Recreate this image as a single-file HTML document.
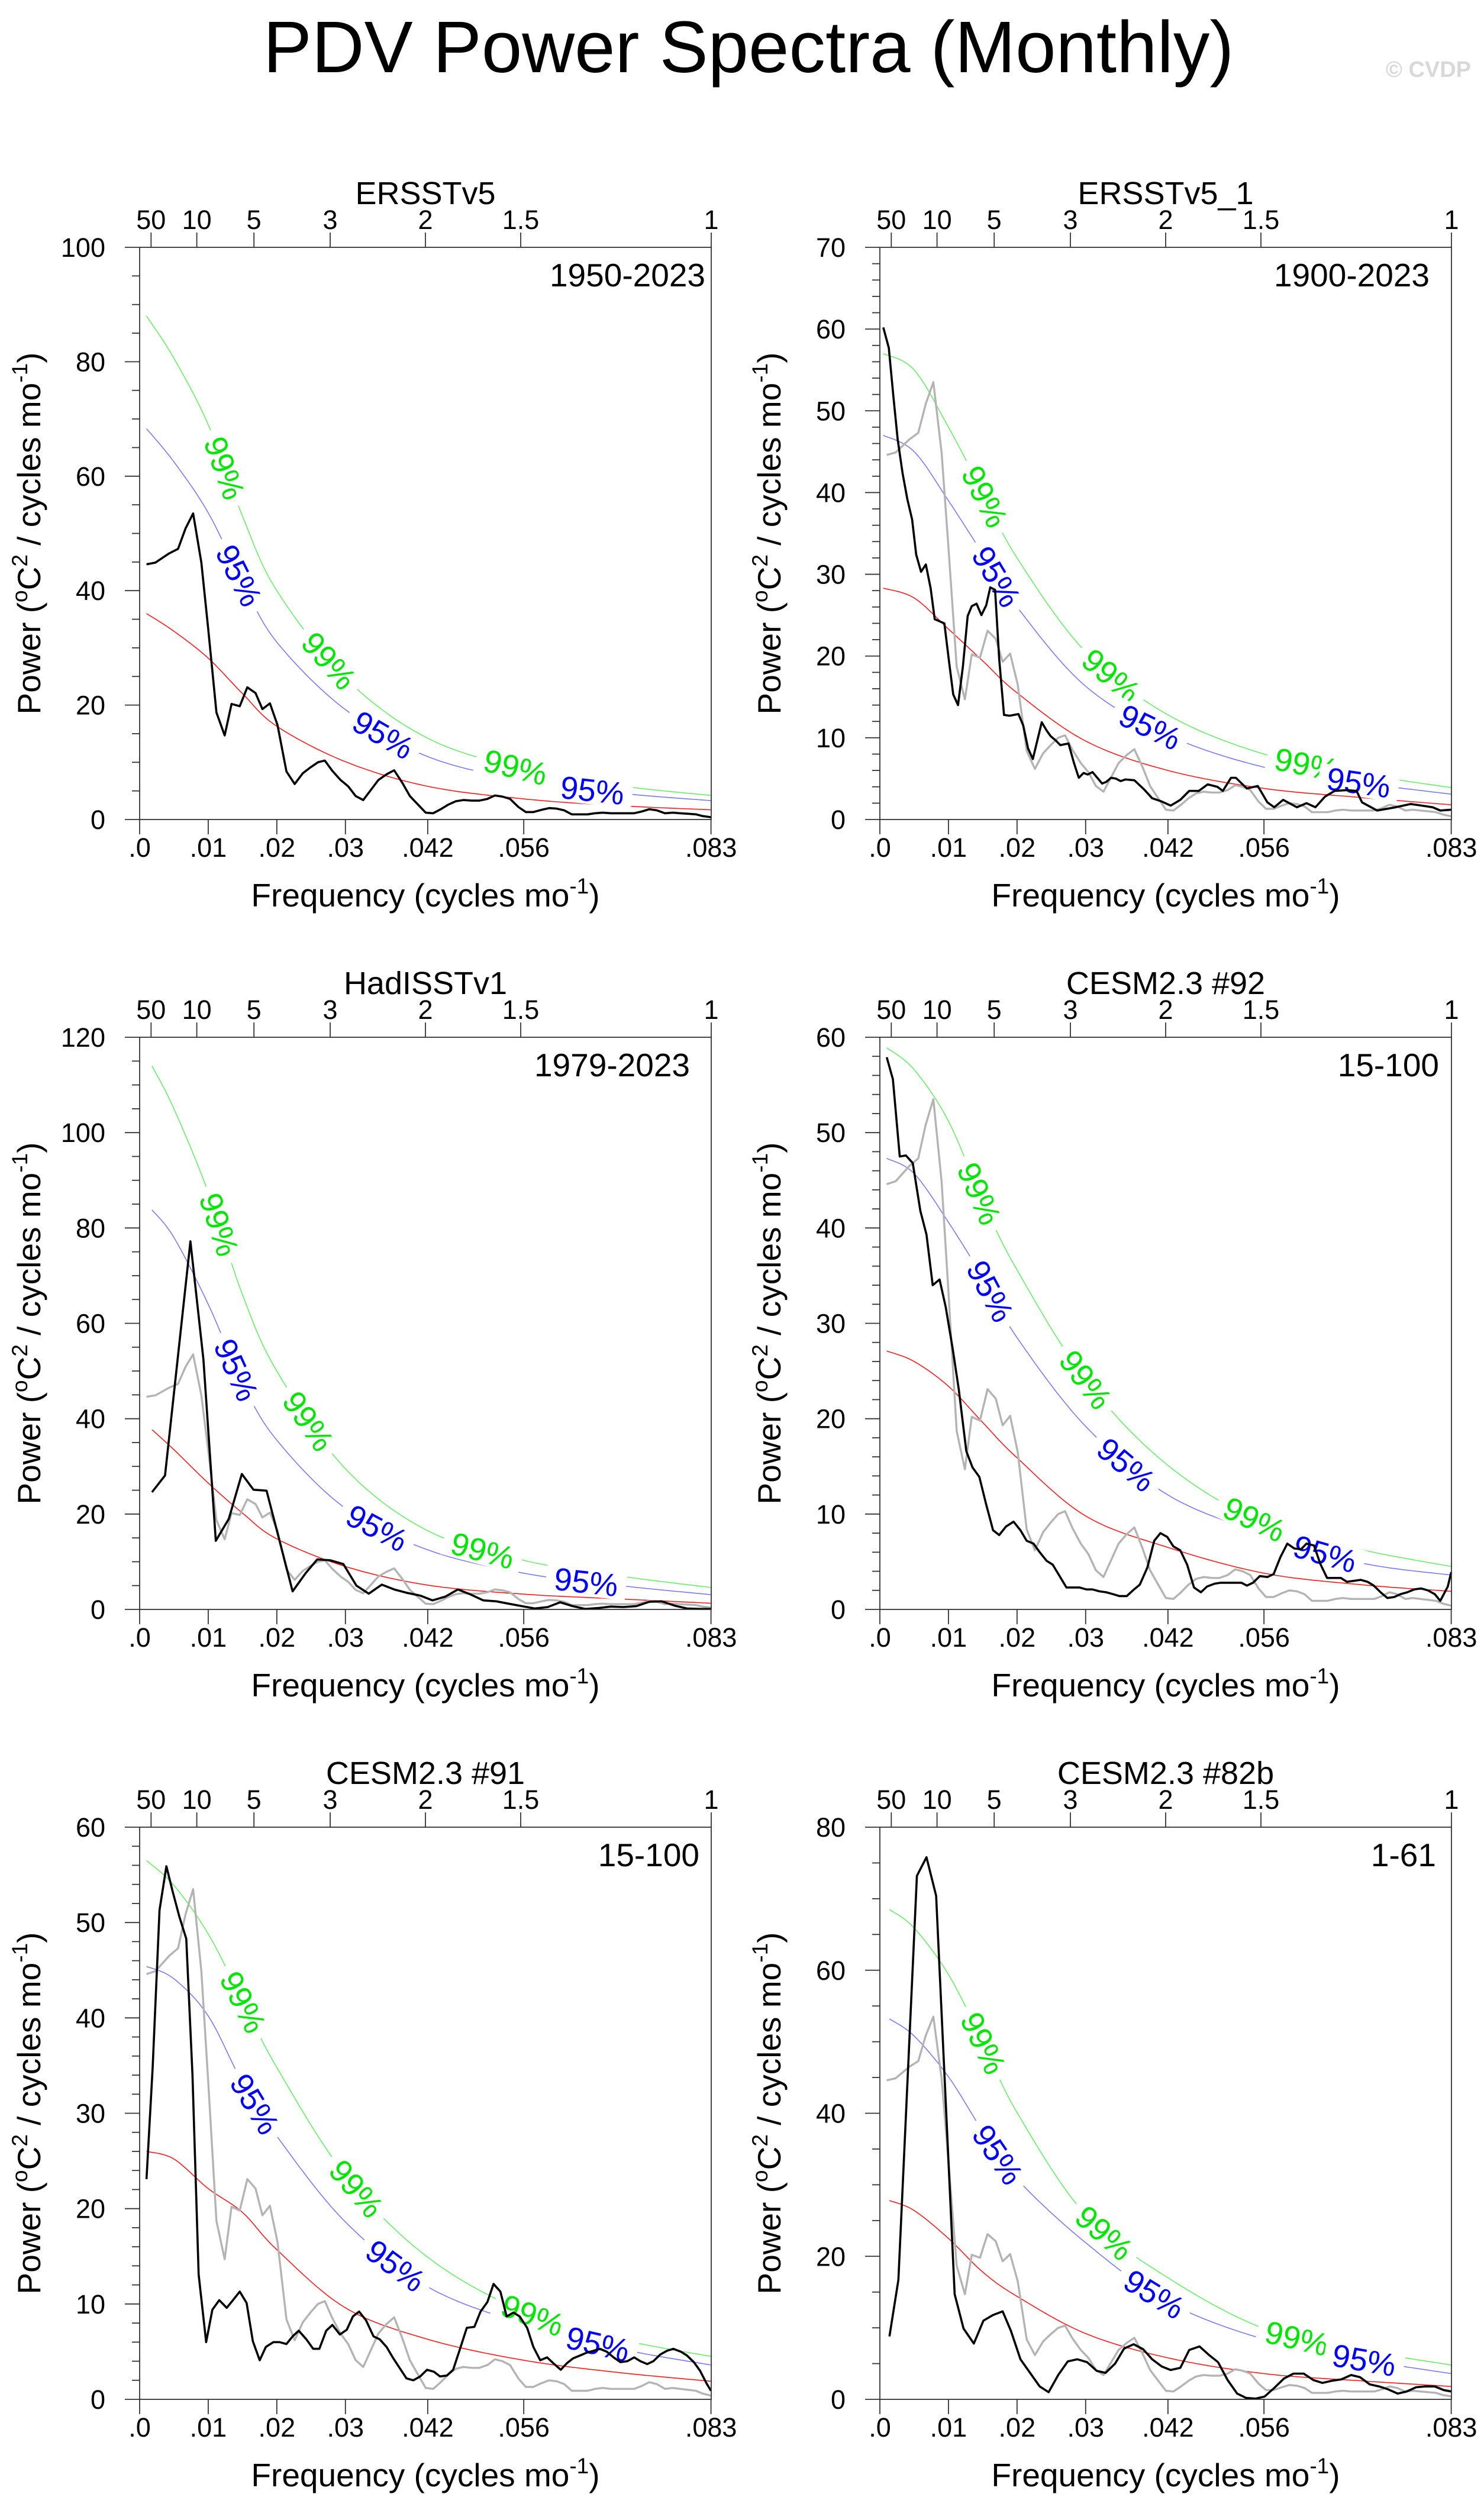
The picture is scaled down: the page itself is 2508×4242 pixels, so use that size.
<!DOCTYPE html>
<html><head><meta charset="utf-8"><title>PDV Power Spectra (Monthly)</title>
<style>html,body{margin:0;padding:0;background:#fff}svg{display:block}text{font-family:"Liberation Sans",Arial,sans-serif}</style>
</head><body>
<svg id="chart" xmlns="http://www.w3.org/2000/svg" width="2508" height="4242" viewBox="0 0 2508 4242">
<rect x="0" y="0" width="2508" height="4242" fill="#fff"/>
<text x="1265" y="122" font-size="123" text-anchor="middle" fill="#000">PDV Power Spectra (Monthly)</text>
<text x="2486" y="130" font-size="38" font-weight="bold" text-anchor="end" fill="#d8d8d8">© CVDP</text>
</svg>
<script>
// ---------- data ----------
const obsFreq = [.001,.0023,.0043,.0056,.0067,.0078,.009,.010,.0112,.0124,.0134,.0146,.0157,.0169,.0179,.0190,.0201,.0214,.0226,.0238,.0249,.026,.0270,.0281,.0293,.0304,.0315,.0326,.0338,.0348,.0360,.0371,.0383,.0394,.0405,.0417,.0428,.0439,.0450,.0461,.0472,.0484,.0495,.0507,.0518,.0529,.0540,.0552,.0563,.0574,.0586,.0597,.0608,.0619,.0630,.0641,.0653,.0664,.0675,.0687,.0698,.0709,.0721,.0732,.0743,.0754,.0766,.0777,.0788,.0800,.0811,.0821,.0833];
const obsPower = [44.6,44.9,46.5,47.3,50.9,53.5,44.9,33.3,18.7,14.7,20.2,19.8,23.1,22.1,19.3,20.3,16.5,8.4,6.2,8.1,9.1,10.0,10.3,8.5,6.9,5.8,4.1,3.4,5.3,6.9,7.9,8.6,6.4,4.1,2.7,1.2,1.1,1.8,2.6,3.2,3.4,3.3,3.3,3.6,4.2,4.0,3.6,2.2,1.3,1.3,1.7,2.0,1.9,1.6,0.9,0.9,0.9,1.1,1.2,1.1,1.1,1.1,1.1,1.4,1.8,1.6,1.1,1.2,1.1,1.0,0.9,0.6,0.4];

const p2Freq = [.0005,.0013,.0020,.0026,.0033,.0040,.0047,.0053,.0060,.0067,.0074,.0080,.0094,.0101,.0107,.0114,.0121,.0128,.0134,.0141,.0148,.0155,.0161,.0168,.0174,.0181,.0189,.0202,.0209,.0216,.0223,.0236,.0243,.0249,.0256,.0263,.0275,.0283,.0290,.0297,.0303,.0310,.0324,.0330,.0337,.0344,.0351,.0358,.0371,.0385,.0397,.0411,.0424,.0438,.0451,.0465,.0478,.0492,.0500,.0512,.0519,.0535,.0551,.0565,.0575,.0588,.0608,.0622,.0635,.0649,.0663,.0681,.0695,.0703,.0725,.0752,.0774,.0790,.0806,.0817,.0833];
const p2Power = [60.2,57.7,51.5,46.5,42.4,39.2,36.7,32.4,30.3,31.2,28.3,24.5,24.0,19.2,15.3,14.0,18.7,24.9,26.1,26.4,25.0,26.2,28.4,28.1,19.6,12.8,12.7,12.9,11.5,8.7,7.4,11.9,10.9,10.2,9.7,9.1,9.3,6.9,5.1,5.7,5.5,5.8,4.4,4.6,5.1,5.0,4.7,4.9,4.8,3.7,2.6,2.2,1.7,2.4,3.5,3.5,4.3,4.0,3.5,5.1,5.1,3.8,4.1,2.1,1.5,2.4,1.5,2.0,1.5,2.8,3.5,3.6,3.5,2.1,1.1,1.5,1.9,1.7,1.5,1.1,1.2];

const p3Freq = [.0018,.0037,.0074,.0093,.0111,.0130,.0149,.0166,.0185,.0223,.0242,.0259,.0278,.0297,.0316,.0334,.0353,.0371,.0389,.0409,.0427,.0446,.0464,.0483,.0501,.052,.0538,.0557,.0576,.0595,.0613,.0631,.065,.0669,.0687,.0705,.0724,.0743,.0761,.078,.0798,.0817,.0833];
const p3Power = [24.6,28.1,77.2,52.4,14.4,19.0,28.4,25.1,24.9,3.8,7.6,10.5,10.3,9.5,5.0,3.3,5.2,4.2,3.5,2.9,1.9,2.7,4.2,3.1,1.9,1.7,1.2,0.7,0.2,0.5,1.5,0.7,0.1,0.3,0.6,0.5,0.7,1.6,1.7,0.8,0.2,0.1,0.1];

const p4Freq = [.001,.0019,.0029,.0038,.0048,.0059,.0068,.0077,.0087,.0096,.0106,.0115,.0126,.0135,.0145,.0155,.0165,.0174,.0184,.0195,.0205,.0214,.0224,.0233,.0243,.0252,.0262,.0272,.0282,.0291,.0301,.031,.032,.033,.034,.0349,.036,.0369,.0379,.039,.04,.0409,.0419,.0428,.0438,.0448,.0458,.0468,.0477,.0488,.0497,.0527,.0535,.0544,.0554,.0565,.0574,.0584,.0594,.0604,.0614,.0622,.0633,.0642,.0652,.0672,.0681,.0691,.0701,.0711,.072,.073,.074,.075,.0759,.0769,.0779,.0789,.0799,.0809,.0817,.0828,.0833];
const p4Power = [57.9,55.6,47.5,47.6,46.8,41.8,39.3,34.0,34.6,31.7,27.4,23.1,16.6,14.9,13.9,11.0,8.3,7.8,8.7,9.2,8.3,7.2,6.9,6.0,5.1,4.7,3.5,2.3,2.3,2.3,2.1,2.1,1.9,1.8,1.6,1.4,1.4,2.0,2.6,4.4,7.2,8.0,7.6,6.6,6.2,4.7,2.3,1.8,2.4,2.7,2.8,2.8,2.5,2.8,3.5,3.4,3.7,5.5,6.9,6.4,6.3,6.9,6.7,4.8,3.3,3.3,2.9,3.0,3.1,2.9,2.5,1.8,1.2,1.3,1.6,1.8,2.1,2.2,2.0,1.6,0.9,2.4,3.9];

const p5Freq = [.001,.0019,.0029,.0039,.0048,.0058,.0068,.0077,.0086,.0097,.0106,.0116,.0127,.0136,.0146,.0156,.0165,.0175,.0184,.0195,.0204,.0214,.0223,.0232,.0243,.0253,.0262,.0272,.0281,.0292,.0302,.0311,.032,.033,.0341,.035,.036,.0369,.0379,.0389,.0399,.0409,.0419,.0429,.0438,.0448,.0457,.0468,.0477,.0488,.0497,.0507,.0516,.0526,.0535,.0545,.0554,.0565,.0574,.0584,.0594,.0603,.0614,.0623,.0632,.0642,.0652,.0662,.0671,.0681,.0691,.0701,.0711,.0721,.073,.074,.0749,.0759,.0769,.0778,.0789,.0798,.0808,.0817,.0827,.0833];
const p5Power = [23.1,34.8,51.3,55.9,53.3,50.6,48.3,34.0,13.1,6.0,9.4,10.4,9.6,10.4,11.3,10.1,6.1,4.1,5.5,6.0,6.0,5.8,6.6,7.2,6.3,5.3,5.3,7.2,7.8,6.8,7.3,8.7,9.2,8.3,6.6,6.3,5.5,4.4,3.3,2.2,2.0,2.4,3.1,2.9,2.4,2.5,3.1,5.5,7.5,7.6,9.2,10.2,12.1,11.3,8.7,9.1,8.7,7.5,5.5,4.1,4.4,3.8,3.1,3.8,4.3,4.6,4.9,5.1,5.3,5.0,4.4,3.9,4.0,4.4,4.0,3.7,4.0,4.7,5.1,5.3,5.0,4.6,3.9,3.0,1.6,0.9];

const p6Freq = [.0014,.0027,.0054,.0068,.0082,.0109,.0122,.0137,.0151,.0165,.0179,.0191,.0205,.0219,.0233,.0246,.026,.0274,.0288,.0302,.0316,.0329,.0343,.0356,.037,.0384,.0397,.0411,.0424,.0438,.0451,.0466,.048,.0493,.0507,.0521,.0534,.0548,.0561,.0575,.0589,.0603,.0618,.0632,.0645,.0659,.0673,.0687,.07,.0714,.0728,.0741,.0755,.0768,.0782,.0795,.0809,.0822,.0833];
const p6Power = [8.8,16.7,73.2,75.8,70.4,14.7,9.9,7.8,11.0,11.8,12.3,9.6,5.6,3.7,1.8,1.0,3.4,5.3,5.6,5.2,4.0,3.7,5.0,7.1,7.7,7.0,5.6,4.6,4.1,4.4,6.9,7.4,6.2,5.2,2.7,0.8,0.2,0.1,0.4,1.6,2.9,3.6,3.6,2.7,2.3,2.6,2.8,3.4,3.1,2.1,1.8,1.4,0.8,1.1,1.7,1.8,1.8,1.3,1.1];

// red-noise and significance curves (sampled)
const sigFreq = [.001,.005,.01,.015,.02,.03,.042,.056,.07,.0833];
const p1Red = [36.0,32.9,28.2,22.0,16.3,10.1,5.8,3.6,2.4,1.7];
const p1Sig95 = [68.3,62.5,53.6,41.5,31.0,19.2,11.0,6.8,4.6,3.3];
const p1Sig99 = [88.0,80.6,69.0,53.0,40.0,24.7,14.2,8.8,5.9,4.2];
const p2Red = [28.3,27.1,23.3,19.4,15.5,9.6,6.0,3.8,2.7,1.8];
const p2Sig95 = [47,45,39,32.5,26,16.3,10.3,6.4,4.5,3.1];
const p2Sig99 = [57,55,48,40,32,20.5,12.8,8.0,5.6,3.9];
const p3Red = [37.7,33.5,26.5,20.2,14.8,9.0,5.1,3.2,2.2,1.3];
const p3Sig95 = [83.8,78,64,47.5,35.5,21.2,12.5,7.6,5.0,3.1];
const p3Sig99 = [114,105,87.5,66,50,29.5,16.5,10.3,7,4.6];
const p4Red = [27.1,26,23.4,19.6,15.9,9.8,6.5,3.8,2.6,1.9];
const p4Sig95 = [47.3,45.7,40.6,34.8,28.5,19.2,12.0,7.9,4.9,3.6];
const p4Sig99 = [58.9,56.6,51.2,42.8,35.6,24.1,15.1,9.0,6.3,4.5];
const p5Red = [26.0,25.2,22.1,19.6,15.7,9.6,6.3,4.1,2.8,1.9];
const p5Sig95 = [45.4,44.1,40.2,33.2,27.6,18.6,11.8,7.9,5.3,3.6];
const p5Sig99 = [56.5,53.9,48.8,41.8,34.8,23.5,14.9,9.2,6.3,4.5];
const p6Red = [27.8,26.4,22.5,17.8,14.4,9.2,5.8,3.6,2.6,1.8];
const p6Sig95 = [53.2,50.8,45.1,37.5,30.8,21.9,13.6,8.4,5.6,3.6];
const p6Sig99 = [68.5,65.9,59.4,50.0,40.1,25.8,17.0,9.9,6.9,4.8];

const bottomTickVals = [0,.01,.02,.03,.042,.056,.0833];
const bottomTickLabels = [".0",".01",".02",".03",".042",".056",".083"];
const periodTickYears = [50,10,5,3,2,1.5,1];
const periodTickLabels = ["50","10","5","3","2","1.5","1"];

const panelTitles = ["ERSSTv5","ERSSTv5_1","HadISSTv1","CESM2.3 #92","CESM2.3 #91","CESM2.3 #82b"];
const panelPeriods = ["1950-2023","1900-2023","1979-2023","15-100","15-100","1-61"];
const panelYMax = [100,70,120,60,60,80];
const panelYMajor = [20,10,20,10,10,20];
const panelYMinor = [5,2,5,2,2,5];
const labelFreq99 = [[.0124,.0276,.0548],[.0153,.0337,.0622],[.0116,.0246,.050],[.0145,.030,.0546],[.0151,.0316,.0573],[.0151,.0327,.0608]];
const labelFreq95 = [[.0145,.0355,.066],[.017,.0394,.0698],[.0141,.0346,.0651],[.0161,.0359,.0649],[.0168,.0373,.0668],[.0172,.040,.0706]];

// ---------- layout ----------
const NS = "http://www.w3.org/2000/svg";
const svg = document.getElementById("chart");
const colX = [236,1487], rowY = [418,1753,3088], PW = 966, PH = 967, XMAX = 1/12;
const periodRight = [1192,2416,1166,2432,1182,2427];
const panelData = [
  {f:obsFreq,v:obsPower,red:p1Red,s95:p1Sig95,s99:p1Sig99,first:.001,gray:false},
  {f:p2Freq,v:p2Power,red:p2Red,s95:p2Sig95,s99:p2Sig99,first:.0005,gray:true},
  {f:p3Freq,v:p3Power,red:p3Red,s95:p3Sig95,s99:p3Sig99,first:.0018,gray:true},
  {f:p4Freq,v:p4Power,red:p4Red,s95:p4Sig95,s99:p4Sig99,first:.001,gray:true},
  {f:p5Freq,v:p5Power,red:p5Red,s95:p5Sig95,s99:p5Sig99,first:.001,gray:true},
  {f:p6Freq,v:p6Power,red:p6Red,s95:p6Sig95,s99:p6Sig99,first:.0014,gray:true}
];

function mk(tag, attrs, parent) {
  const e = document.createElementNS(NS, tag);
  for (const k in attrs) e.setAttribute(k, attrs[k]);
  (parent || svg).appendChild(e);
  return e;
}
function densify(pts) {
  const out = [];
  for (let i = 0; i < pts.length - 1; i++) {
    const p0 = pts[Math.max(0,i-1)], p1 = pts[i], p2 = pts[i+1], p3 = pts[Math.min(pts.length-1,i+2)];
    for (let s = 0; s < 24; s++) {
      const t = s/24, t2 = t*t, t3 = t2*t;
      const cx = 0.5*((2*p1[0])+(-p0[0]+p2[0])*t+(2*p0[0]-5*p1[0]+4*p2[0]-p3[0])*t2+(-p0[0]+3*p1[0]-3*p2[0]+p3[0])*t3);
      const cy = 0.5*((2*p1[1])+(-p0[1]+p2[1])*t+(2*p0[1]-5*p1[1]+4*p2[1]-p3[1])*t2+(-p0[1]+3*p1[1]-3*p2[1]+p3[1])*t3);
      out.push([cx,cy]);
    }
  }
  out.push(pts[pts.length-1]);
  return out;
}
function ptStr(pts){ return pts.map(p => p[0].toFixed(1)+","+p[1].toFixed(1)).join(" "); }

for (let i = 0; i < 6; i++) {
  const x0 = colX[i%2], y0 = rowY[Math.floor(i/2)];
  const d = panelData[i], ymax = panelYMax[i];
  const sx = f => x0 + f/XMAX*PW;
  const sy = v => y0 + PH - v/ymax*PH;
  const g = mk("g", {});
  
  

  const sf = sigFreq.slice(); sf[0] = d.first;
  const curves = [[d.red,"#ff1a1a","red-noise-curve"],[d.s95,"#7878ff","sig-95-curve"],[d.s99,"#66ee66","sig-99-curve"]];
  const dense = {};
  curves.forEach(c => {
    const pts = densify(sf.map((f,k) => [sx(f), sy(c[0][k])]));
    dense[c[2]] = pts;
    const pl = mk("polyline", {points: ptStr(pts), fill:"none", stroke:c[1], "stroke-width":"1.6"}, g);
    
    
  });
  function addLabel(pts, f, txt, color) {
    const tx = sx(f);
    let k = 0; while (k < pts.length-2 && pts[k+1][0] < tx) k++;
    const a = pts[Math.max(0,k-3)], b = pts[Math.min(pts.length-1,k+4)];
    const t = (tx - pts[k][0]) / ((pts[k+1][0]-pts[k][0]) || 1);
    const ty = pts[k][1] + t*(pts[k+1][1]-pts[k][1]);
    const ang = Math.atan2(b[1]-a[1], b[0]-a[0])*180/Math.PI;
    const lg = mk("g", {transform:"translate("+tx.toFixed(1)+","+ty.toFixed(1)+") rotate("+ang.toFixed(1)+")"}, g);
    
    
    mk("rect", {x:-68, y:-24, width:136, height:48, fill:"#fff"}, lg);
    const te = mk("text", {x:0, y:19, "font-size":"54", "text-anchor":"middle", fill:color}, lg);
    te.textContent = txt;
  }
  labelFreq99[i].forEach(f => addLabel(dense["sig-99-curve"], f, "99%", "#00e600"));
  labelFreq95[i].forEach(f => addLabel(dense["sig-95-curve"], f, "95%", "#0000ff"));

  if (d.gray) {
    const gp = mk("polyline", {points: ptStr(obsFreq.map((f,k)=>[sx(f), sy(obsPower[k])])), fill:"none", stroke:"#b3b3b3", "stroke-width":"3.4", "stroke-linejoin":"round"}, g);
    
    
  }
  const n = Math.min(d.f.length, d.v.length);
  const bp = mk("polyline", {points: ptStr(d.f.slice(0,n).map((f,k)=>[sx(Math.min(f,XMAX)), sy(d.v[k])])), fill:"none", stroke:"#000", "stroke-width":"3.6", "stroke-linejoin":"round"}, g);
  
  

  const fr = mk("rect", {x:x0, y:y0, width:PW, height:PH, fill:"none", stroke:"#333", "stroke-width":"1.8"}, g);
  
  

  for (let v = 0; v <= ymax + 1e-9; v += panelYMinor[i]) {
    const major = Math.abs(v/panelYMajor[i] - Math.round(v/panelYMajor[i])) < 1e-6;
    mk("line", {x1:x0 - (major?25:13), x2:x0, y1:sy(v), y2:sy(v), stroke:"#333", "stroke-width":"1.8"}, g);
    if (major) {
      const t = mk("text", {x:x0-58, y:sy(v)+16, "font-size":"45", "text-anchor":"end", fill:"#000"}, g);
      
      
      t.textContent = String(Math.round(v));
    }
  }
  bottomTickVals.forEach((f,k) => {
    mk("line", {x1:sx(f), x2:sx(f), y1:y0+PH, y2:y0+PH+25, stroke:"#333", "stroke-width":"1.8"}, g);
    const t = mk("text", {x:sx(f), y:y0+PH+63, "font-size":"45", "text-anchor":"middle", fill:"#000"}, g);
    
    
    t.textContent = bottomTickLabels[k];
  });
  periodTickYears.forEach((p,k) => {
    const f = 1/(12*p);
    mk("line", {x1:sx(f), x2:sx(f), y1:y0, y2:y0-25, stroke:"#333", "stroke-width":"1.8"}, g);
    const t = mk("text", {x:sx(f), y:y0-31, "font-size":"45", "text-anchor":"middle", fill:"#000"}, g);
    
    
    t.textContent = periodTickLabels[k];
  });
  const tt = mk("text", {x:x0+PW/2, y:y0-73, "font-size":"54", "text-anchor":"middle", fill:"#000"}, g);
  
  
  tt.textContent = panelTitles[i];
  const pt = mk("text", {x:periodRight[i], y:y0+66, "font-size":"55", "text-anchor":"end", fill:"#000"}, g);
  
  
  pt.textContent = panelPeriods[i];

  const xt = mk("text", {x:x0+PW/2, y:y0+PH+147, "font-size":"55", "text-anchor":"middle", fill:"#000"}, g);
  
  
  xt.innerHTML = 'Frequency (cycles mo<tspan dy="-22" font-size="37">-1</tspan><tspan dy="22">)</tspan>';

  const ycx = x0 - 168, ycy = y0 + PH/2;
  const yt = mk("text", {x:ycx, y:ycy, "font-size":"55", "text-anchor":"middle", fill:"#000", transform:"rotate(-90 "+ycx+" "+ycy+")"}, g);
  
  
  yt.innerHTML = 'Power (<tspan dy="-22" font-size="37">o</tspan><tspan dy="22">C</tspan><tspan dy="-22" font-size="37">2</tspan><tspan dy="22"> / cycles mo</tspan><tspan dy="-22" font-size="37">-1</tspan><tspan dy="22">)</tspan>';
}
</script>
</body></html>
